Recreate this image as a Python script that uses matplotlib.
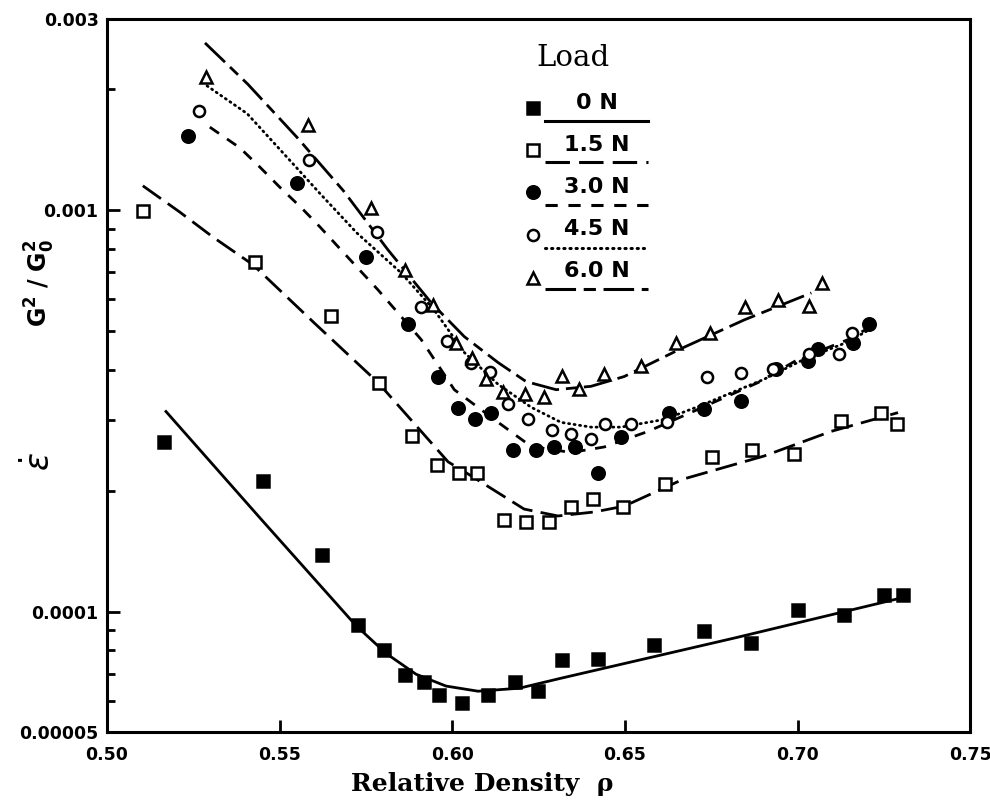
import numpy as np
import matplotlib
matplotlib.use('Agg')
import matplotlib.pyplot as plt
from matplotlib.ticker import FixedLocator, LogLocator, NullFormatter

# measured points (relative density, strain-rate ratio)
x_0n = [0.5165, 0.5452, 0.5623, 0.5727, 0.5803, 0.5863, 0.5918, 0.5962, 0.6028, 0.6104,
        0.6182, 0.6249, 0.6318, 0.6422, 0.6585, 0.6729, 0.6866, 0.7002, 0.7135, 0.7251, 0.7306]
y_0n = [0.000264, 0.000211, 0.000138, 0.0000923, 0.0000800, 0.0000693, 0.0000667, 0.0000619,
        0.0000592, 0.0000619, 0.0000667, 0.0000633, 0.0000755, 0.0000762, 0.0000824, 0.0000892,
        0.0000833, 0.000101, 0.0000983, 0.000110, 0.000110]

x_15n = [0.5104, 0.5429, 0.5649, 0.5788, 0.5884, 0.5956, 0.6020, 0.6072, 0.6150, 0.6214, 0.6280,
         0.6344, 0.6408, 0.6495, 0.6616, 0.6752, 0.6868, 0.6990, 0.7126, 0.7242, 0.7288]
y_15n = [0.000994, 0.000743, 0.000546, 0.000372, 0.000273, 0.000232, 0.000221, 0.000221, 0.000169,
         0.000167, 0.000167, 0.000182, 0.000191, 0.000182, 0.000208, 0.000243, 0.000252, 0.000247,
         0.000299, 0.000312, 0.000294]

x_30n = [0.5235, 0.5550, 0.5750, 0.5872, 0.5959, 0.6017, 0.6066, 0.6113, 0.6176, 0.6243, 0.6295,
         0.6356, 0.6422, 0.6489, 0.6628, 0.6729, 0.6837, 0.6938, 0.7031, 0.7060, 0.7161, 0.7208]
y_30n = [0.00153, 0.00117, 0.000764, 0.000519, 0.000385, 0.000321, 0.000301, 0.000313, 0.000252,
         0.000252, 0.000257, 0.000257, 0.000221, 0.000272, 0.000313, 0.000319, 0.000334, 0.000401,
         0.000420, 0.000452, 0.000468, 0.000519]

x_45n = [0.5267, 0.5585, 0.5782, 0.5910, 0.5985, 0.6054, 0.6110, 0.6162, 0.6220, 0.6289, 0.6344,
         0.6402, 0.6443, 0.6518, 0.6622, 0.6738, 0.6837, 0.6929, 0.7033, 0.7120, 0.7158]
y_45n = [0.00177, 0.00133, 0.000881, 0.000574, 0.000473, 0.000417, 0.000396, 0.000328, 0.000301,
         0.000284, 0.000277, 0.000269, 0.000293, 0.000293, 0.000296, 0.000383, 0.000392, 0.000401,
         0.000439, 0.000437, 0.000495]

x_60n = [0.5287, 0.5582, 0.5765, 0.5863, 0.5944, 0.6011, 0.6057, 0.6098, 0.6147, 0.6211, 0.6266,
         0.6318, 0.6367, 0.6440, 0.6547, 0.6649, 0.6747, 0.6849, 0.6944, 0.7034, 0.7072]
y_60n = [0.00215, 0.00163, 0.00101, 0.000710, 0.000581, 0.000468, 0.000427, 0.000379, 0.000352,
         0.000348, 0.000342, 0.000387, 0.000358, 0.000390, 0.000408, 0.000468, 0.000495, 0.000574,
         0.000598, 0.000578, 0.000659]

# fitted curves
fx_0n = [0.5171, 0.5446, 0.5721, 0.5808, 0.5895, 0.5982, 0.6075, 0.6194, 0.6315, 0.6820, 0.7318]
fy_0n = [0.000315, 0.000170, 0.0000923, 0.0000787, 0.0000698, 0.0000652, 0.0000633, 0.0000644,
         0.0000682, 0.0000860, 0.000109]

fx_15n = [0.5104, 0.5211, 0.5307, 0.5423, 0.5600, 0.5785, 0.5988, 0.6054, 0.6208, 0.6306, 0.6411,
          0.6498, 0.6671, 0.6903, 0.7097, 0.7291]
fy_15n = [0.00115, 0.000989, 0.000857, 0.000731, 0.000524, 0.000372, 0.000236, 0.000218, 0.000180,
          0.000173, 0.000177, 0.000183, 0.000214, 0.000244, 0.000281, 0.000313]

fx_30n = [0.5298, 0.5385, 0.5443, 0.5501, 0.5565, 0.5617, 0.5678, 0.5785, 0.5910, 0.6006, 0.6133,
          0.6228, 0.6344, 0.6440, 0.6567, 0.6712, 0.6886, 0.7002, 0.7147, 0.7213]
fy_30n = [0.00161, 0.00143, 0.00128, 0.00114, 0.00101, 0.000908, 0.000796, 0.000633, 0.000476,
          0.000357, 0.000296, 0.000258, 0.000249, 0.000257, 0.000281, 0.000319, 0.000372, 0.000425,
          0.000476, 0.000513]

fx_45n = [0.5290, 0.5406, 0.5530, 0.5617, 0.5724, 0.5852, 0.5947, 0.6035, 0.6133, 0.6228, 0.6315,
          0.6402, 0.6489, 0.6614, 0.6712, 0.6903, 0.7019, 0.7147, 0.7208]
fy_45n = [0.00204, 0.00174, 0.00133, 0.00110, 0.000877, 0.000698, 0.000565, 0.000442, 0.000368,
          0.000323, 0.000296, 0.000288, 0.000288, 0.000301, 0.000324, 0.000379, 0.000425, 0.000470,
          0.000504]

fx_60n = [0.5284, 0.5408, 0.5550, 0.5684, 0.5814, 0.5939, 0.6035, 0.6133, 0.6214, 0.6301, 0.6402,
          0.6498, 0.6663, 0.6846, 0.7040]
fy_60n = [0.00261, 0.00206, 0.00152, 0.00112, 0.000796, 0.000588, 0.000484, 0.000417, 0.000374,
          0.000357, 0.000364, 0.000385, 0.000452, 0.000533, 0.000622]

labels = ['0 N', '1.5 N', '3.0 N', '4.5 N', '6.0 N']
xticks = [0.50, 0.55, 0.60, 0.65, 0.70, 0.75]
xticklabels = ['0.50', '0.55', '0.60', '0.65', '0.70', '0.75']
yticks = [0.00005, 0.0001, 0.001, 0.003]
yticklabels = ['0.00005', '0.0001', '0.001', '0.003']

# styles per load
markers = [dict(marker='s', mfc='black', ms=9),
           dict(marker='s', mfc='white', ms=9),
           dict(marker='o', mfc='black', ms=9),
           dict(marker='o', mfc='white', ms=8),
           dict(marker='^', mfc='white', ms=8.5)]
dashes = ['-', (0, (8, 3)), (0, (4, 3.5)), (0, (0.4, 1.6)), (0, (10, 2.5, 4, 2.5))]

fig = plt.figure(figsize=(9.9, 8.11), dpi=100)
ax = fig.add_axes([0.108, 0.097, 0.872, 0.880])

pts = [(x_0n, y_0n), (x_15n, y_15n), (x_30n, y_30n), (x_45n, y_45n), (x_60n, y_60n)]
fits = [(fx_0n, fy_0n), (fx_15n, fy_15n), (fx_30n, fy_30n), (fx_45n, fy_45n), (fx_60n, fy_60n)]

for i in range(5):
    cap = 'round' if i == 3 else 'butt'
    ax.plot(fits[i][0], fits[i][1], color='black', lw=2.0, linestyle=dashes[i],
            dash_capstyle=cap, zorder=2)
    ax.plot(pts[i][0], pts[i][1], linestyle='none', color='black', mec='black',
            mew=1.8, zorder=3, **markers[i])

ax.set_yscale('log')
ax.set_xlim(0.50, 0.75)
ax.set_ylim(0.00005, 0.003)

ax.yaxis.set_major_locator(FixedLocator(yticks))
ax.yaxis.set_minor_locator(LogLocator(base=10, subs=np.arange(2, 10)))
ax.yaxis.set_minor_formatter(NullFormatter())
ax.set_yticklabels(yticklabels)
ax.set_xticks(xticks)
ax.set_xticklabels(xticklabels)

ax.tick_params(axis='both', which='major', direction='in', length=9, width=2,
               labelsize=12.5, pad=10)
ax.tick_params(axis='y', which='minor', direction='in', length=6, width=2)
for lab in ax.get_xticklabels() + ax.get_yticklabels():
    lab.set_fontweight('bold')
ax.tick_params(axis='y', which='major', pad=6)
for sp in ax.spines.values():
    sp.set_linewidth(2.2)

ax.set_xlabel('Relative Density  \u03c1', family='DejaVu Serif', fontsize=18,
              fontweight='bold', labelpad=6)
ax.xaxis.set_label_coords(0.435, -0.055)

# y label: epsilon dot, then G^2 / G0^2, both turned upright
fig.text(0.040, (811 - 462) / 811, r'$\dot{\varepsilon}$', rotation=90, fontsize=24,
         ha='center', va='center')
fig.text(0.040, (811 - 283) / 811, r'$\mathbf{G^{2}\ /\ G_{0}^{2}}$', rotation=90,
         fontsize=17, ha='center', va='center')

# hand-made legend: marker, label, line sample underneath
def ax_xy(px, py):
    return (px - 107) / 863.0, (732 - py) / 713.0

ax.text(*ax_xy(573, 58), 'Load', transform=ax.transAxes, family='DejaVu Serif',
        fontsize=21, ha='center', va='center')
mark_y = [108, 150, 192, 235, 278]
text_y = [103, 145, 187, 229, 271]
line_y = [121, 162, 205, 248, 289]
for i in range(5):
    mx, my = ax_xy(533, mark_y[i])
    ax.plot([mx], [my], transform=ax.transAxes, linestyle='none', color='black',
            mec='black', mew=1.8, clip_on=False, **markers[i])
    tx, ty = ax_xy(597, text_y[i])
    ax.text(tx, ty, labels[i], transform=ax.transAxes, fontsize=16, fontweight='bold',
            ha='center', va='center')
    lx0, ly = ax_xy(545, line_y[i])
    lx1, _ = ax_xy(648, line_y[i])
    cap = 'round' if i == 3 else 'butt'
    ax.plot([lx0, lx1], [ly, ly], transform=ax.transAxes, color='black', lw=2.2,
            linestyle=dashes[i], dash_capstyle=cap)

fig.savefig('out.png', dpi=100)
